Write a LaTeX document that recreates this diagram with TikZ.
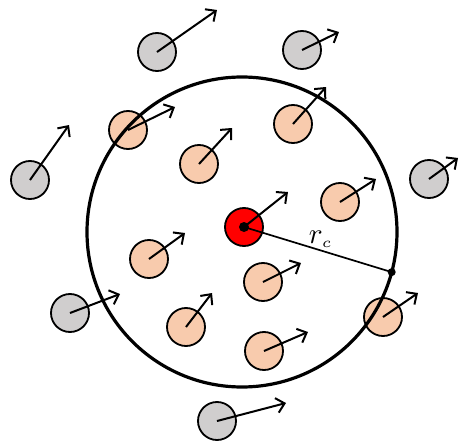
\documentclass[tikz,border=0pt]{standalone}
\usetikzlibrary{arrows.meta}
\definecolor{porange}{HTML}{F8CBAD}
\definecolor{pgray}{HTML}{D0CECE}
\definecolor{pred}{HTML}{FF0000}
\begin{document}
\begin{tikzpicture}[x=1pt,y=-1pt,
  particle/.style={circle,draw=black,line width=1.8pt,minimum size=38pt,inner sep=0pt,outer sep=0pt},
  inside/.style={particle,fill=porange},
  outside/.style={particle,fill=pgray},
  central/.style={particle,fill=pred},
  vec/.style={line width=2pt,-{Straight Barb[length=8pt,width=15pt,line width=2pt]}},
  cutoff/.style={circle,draw=black,line width=3.2pt,minimum size=310pt,inner sep=0pt,outer sep=0pt},
  radius/.style={line width=1.7pt}]
\useasboundingbox (0,0) rectangle (459,442);
% inside particles
\node[inside] (i1) at (128,130) {};
\node[inside] (i2) at (293,124) {};
\node[inside] (i3) at (199,164) {};
\node[inside] (i4) at (340,202) {};
\node[inside] (i5) at (149,259) {};
\node[inside] (i6) at (263,282) {};
\node[inside] (i7) at (186,327) {};
\node[inside] (i8) at (264,351) {};
\node[inside] (i9) at (383,317) {};
% outside particles
\node[outside] (o1) at (157,52) {};
\node[outside] (o2) at (302,50) {};
\node[outside] (o3) at (30,180) {};
\node[outside] (o4) at (429,179) {};
\node[outside] (o5) at (70,313) {};
\node[outside] (o6) at (217,421) {};
% central particle
\node[central] (c) at (244,227) {};
% cutoff sphere
\node[cutoff] (cut) at (242,232) {};
% arrow tips
\coordinate (i1t) at (175,107);
\coordinate (i2t) at (326,87);
\coordinate (i3t) at (232,128);
\coordinate (i4t) at (376,179);
\coordinate (i5t) at (185,233);
\coordinate (i6t) at (301,263);
\coordinate (i7t) at (212,293);
\coordinate (i8t) at (308,332);
\coordinate (i9t) at (418,293);
\coordinate (o1t) at (217,10);
\coordinate (o2t) at (339,32);
\coordinate (o3t) at (69,125);
\coordinate (o4t) at (458,158);
\coordinate (o5t) at (120,294);
\coordinate (o6t) at (286,403);
\coordinate (ct) at (288,192);
\foreach \n in {i1,i2,i3,i4,i5,i6,i7,i8,i9,o1,o2,o3,o4,o5,o6,c}
  \draw[vec] (\n.center) -- (\n t);
% radius
\coordinate (rim) at (cut.-15.5);
\draw[radius] (c.center) -- node[pos=0.52,above=2pt,inner sep=0pt] {\scalebox{2.9}{$r_{\scriptscriptstyle c}$}} (rim);
\fill (c.center) circle (5pt);
\fill (rim) circle (4pt);
\end{tikzpicture}
\end{document}
